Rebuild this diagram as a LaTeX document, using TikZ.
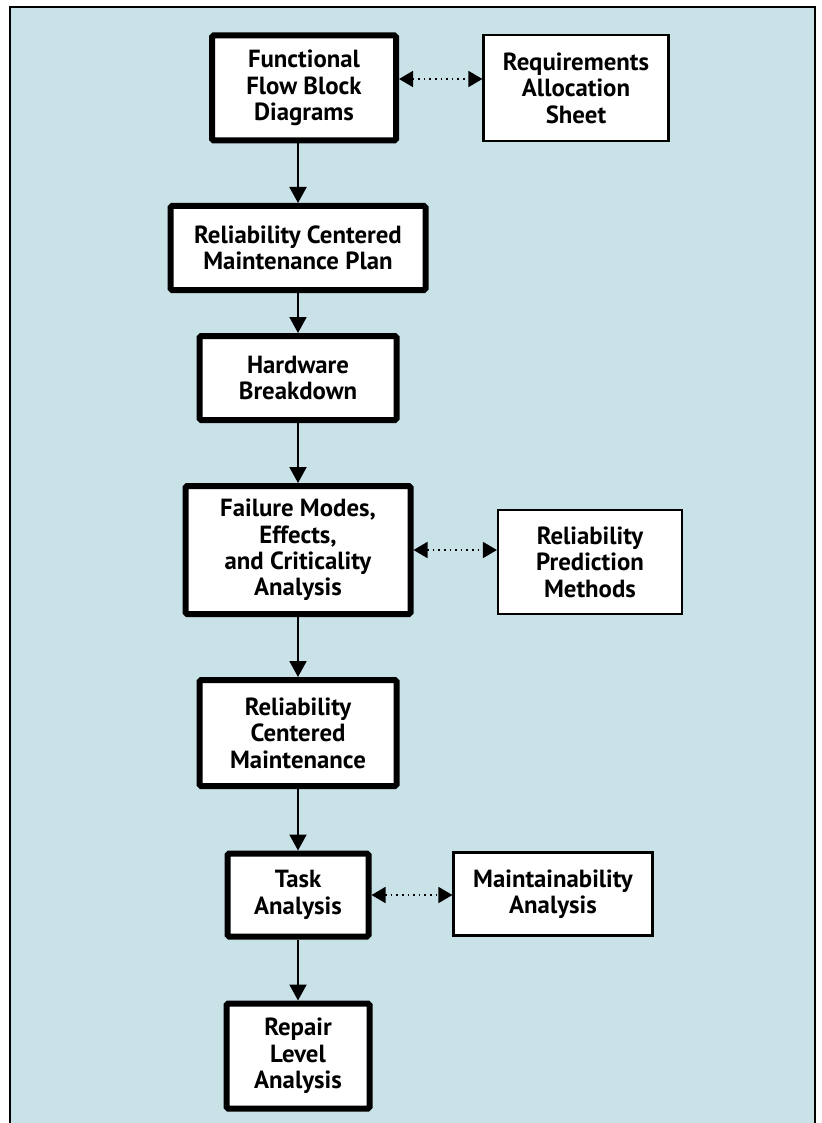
\documentclass[tikz,border=0pt]{standalone}
\usepackage{fontspec}
\setmainfont{PT Sans}
\usetikzlibrary{arrows.meta}
\definecolor{panelblue}{RGB}{201,226,232}

\begin{document}
\begin{tikzpicture}[x=0.5pt,y=-0.5pt,
	box/.style={draw, fill=white, line width=3pt, rounded corners=0.8pt, align=center,
		font=\fontsize{12.4}{13.2}\selectfont\bfseries, inner sep=0pt},
	sidebox/.style={box, line width=1.1pt, rounded corners=0pt},
	flow/.style={-{Triangle[width=8.5pt,length=8pt]}, line width=1pt},
	link/.style={{Triangle[width=8pt,length=7pt]}-{Triangle[width=8pt,length=7pt]}, line width=0.8pt, dotted}]
	\newcommand\colx{298}

	\useasboundingbox (0,0) rectangle (821,1123);
	\fill[panelblue] (10,7) rectangle (815,1123);
	\draw[line width=1pt] (10,1123) -- (10,7) -- (815,7) -- (815,1123);

	\node[box, minimum width=92pt, minimum height=52.5pt] (ffbd) at (304,88) {Functional\\Flow Block\\Diagrams};
	\node[sidebox, minimum width=92.5pt, minimum height=53pt] (ras) at (576,88) {Requirements\\Allocation\\Sheet};
	\node[box, minimum width=127.5pt, minimum height=42pt] (rcmp) at (\colx,248) {Reliability Centered\\Maintenance Plan};
	\node[box, minimum width=98.5pt, minimum height=42pt] (hwb) at (\colx,378) {Hardware\\Breakdown};
	\node[box, minimum width=112.5pt, minimum height=64pt] (fmeca) at (\colx,550) {Failure Modes,\\Effects,\\and Criticality\\Analysis};
	\node[sidebox, minimum width=92pt, minimum height=52pt] (rpm) at (590,562) {Reliability\\Prediction\\Methods};
	\node[box, minimum width=98.5pt, minimum height=53pt] (rcm) at (\colx,733) {Reliability\\Centered\\Maintenance};
	\node[box, minimum width=70.5pt, minimum height=41.5pt] (task) at (\colx,895) {Task\\Analysis};
	\node[sidebox, minimum width=99.5pt, minimum height=41.5pt] (maint) at (553,894) {Maintainability\\Analysis};
	\node[box, minimum width=71.5pt, minimum height=52.5pt] (rla) at (\colx,1056) {Repair\\Level\\Analysis};

	\draw[flow] (ffbd.south -| rcmp) -- (rcmp.north);
	\draw[flow] (rcmp) -- (hwb);
	\draw[flow] (hwb) -- (fmeca);
	\draw[flow] (fmeca) -- (rcm);
	\draw[flow] (rcm) -- (task);
	\draw[flow] (task) -- (rla);

	\draw[link] ([yshift=4.5pt]ffbd.east) -- ([yshift=4.5pt]ras.west);
	\draw[link] (fmeca.east) -- (rpm.west |- fmeca.east);
	\draw[link] (task.east) -- (maint.west |- task.east);
\end{tikzpicture}
\end{document}
